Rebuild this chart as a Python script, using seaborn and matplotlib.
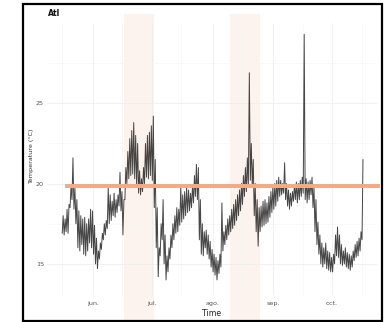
import matplotlib
matplotlib.use("Agg")
import matplotlib.pyplot as plt
import matplotlib.dates as mdates
from matplotlib.patches import Rectangle
import numpy as np
import pandas as pd
import seaborn as sns

# Daily minimum / maximum water temperature (°C), one value per day from 16 May
start_date = "2021-05-16"
daily_low = [
    16.9, 16.8, 17.0, 16.9, 18.5, 19.0, 18.4, 17.5, 16.0, 15.8,
    16.2, 15.6, 15.5, 15.8, 16.3, 16.0, 15.6, 15.0, 14.7, 15.3,
    15.9, 16.5, 16.8, 17.2, 17.5, 17.7, 18.0, 17.9, 18.2, 18.6,
    18.3, 16.8, 19.0, 20.0, 20.3, 20.5, 20.6, 20.3, 19.8, 19.4,
    19.3, 19.5, 20.0, 20.4, 20.3, 20.5, 20.2, 18.5, 16.0, 14.2,
    15.5, 16.5, 15.0, 14.0, 14.5, 15.3, 16.0, 16.5, 16.9, 17.0,
    17.4, 17.6, 17.8, 18.0, 18.2, 18.3, 18.5, 18.8, 19.2, 19.0,
    16.5, 15.6, 15.5, 16.0, 15.6, 15.3, 14.8, 14.5, 14.3, 14.0,
    14.4, 14.8, 15.8, 16.2, 16.5, 16.8, 17.0, 17.2, 17.4, 17.7,
    18.0, 18.3, 18.7, 19.2, 19.5, 19.8, 20.2, 19.8, 18.0, 17.0,
    16.1, 17.0, 17.3, 17.4, 17.5, 17.6, 17.9, 18.2, 18.4, 18.6,
    18.9, 19.2, 19.3, 19.4, 19.0, 18.6, 18.4, 18.6, 18.9, 19.0,
    18.8, 19.0, 19.2, 19.4, 19.0, 18.8, 19.0, 19.3, 18.5, 17.0,
    16.2, 15.6, 15.0, 14.8, 15.0, 14.7, 14.6, 14.5, 14.5, 15.0,
    15.5, 15.4, 15.0, 14.9, 15.0, 14.8, 14.7, 14.6, 14.8, 15.2,
    15.4, 15.5, 15.8, 16.5,
]
daily_high = [
    18.0, 17.8, 18.4, 18.7, 19.8, 21.6, 19.7, 19.0, 18.3, 18.0,
    17.8, 17.9, 17.5, 17.8, 18.4, 18.3, 17.4, 16.6, 15.8, 16.3,
    16.9, 17.5, 17.7, 19.8, 19.3, 18.9, 19.4, 19.0, 19.3, 20.7,
    19.5, 19.0, 21.0, 22.0, 22.8, 23.3, 23.8, 23.0, 22.5, 20.8,
    20.3, 21.0, 22.5, 23.0, 23.2, 23.6, 24.2, 21.5, 18.5, 16.0,
    17.5, 19.0, 16.8, 15.5, 16.0, 16.8, 17.5, 18.0, 18.5, 18.4,
    19.8, 19.3, 19.5, 19.8, 19.6, 19.4, 19.9, 20.5, 21.2, 21.0,
    19.0, 17.5, 17.0, 17.1, 16.8, 16.4, 15.9, 15.6, 15.4, 15.2,
    15.6, 18.8, 17.0, 17.4, 17.8, 18.0, 18.4, 18.7, 19.0, 19.3,
    19.6, 20.0, 20.5, 21.0, 21.6, 26.9, 22.5, 21.5, 20.0, 19.0,
    18.5, 18.6, 18.9, 19.0, 18.8, 19.2, 19.5, 19.8, 20.0, 20.2,
    20.4, 20.2, 20.0, 21.3, 20.0, 19.6, 19.4, 19.5, 19.9, 20.1,
    20.0, 20.2, 20.4, 29.3, 20.3, 20.1, 20.2, 20.4, 19.8, 19.0,
    17.6, 16.8, 16.3, 16.0, 16.3, 15.8, 15.7, 15.4, 15.6, 16.8,
    17.3, 16.8, 16.2, 15.8, 16.0, 15.7, 15.6, 15.5, 15.8, 16.2,
    16.4, 16.6, 17.0, 21.5,
]

# Heat-wave periods and the reference threshold
heatwave_starts = ["2021-06-17", "2021-08-10"]
heatwave_ends = ["2021-07-02", "2021-08-25"]
threshold = 19.87
threshold_span = ["2021-05-17 17:00", "2021-10-25 05:00"]

month_labels = ["jun.", "jul.", "ago.", "sep.", "oct."]
y_ticks = [15, 20, 25]

# Long table: morning minimum then afternoon maximum for each day
day0 = pd.Timestamp(start_date)
times, temps = [], []
for i, (lo, hi) in enumerate(zip(daily_low, daily_high)):
    times += [day0 + pd.Timedelta(days=i + 0.25), day0 + pd.Timedelta(days=i + 0.75)]
    temps += [lo, hi]
df = pd.DataFrame({"Time": times, "Temperature": temps})

sns.set_theme(style="white")
plt.rcParams["font.family"] = ["DejaVu Sans"]

fig = plt.figure(figsize=(3.88, 3.22), dpi=100)
ax = fig.add_axes([47 / 388, 1 - 295 / 322, 330 / 388, 272 / 322])
ax.set_axisbelow(True)

for s, e in zip(heatwave_starts, heatwave_ends):
    ax.axvspan(pd.Timestamp(s), pd.Timestamp(e), ymin=-0.092, ymax=1.033,
               color="#fdf3ee", lw=0, zorder=0.2, clip_on=False)

sns.lineplot(data=df, x="Time", y="Temperature", ax=ax, estimator=None,
             sort=False, color="black", alpha=0.72, lw=0.7, zorder=2)

ax.plot([pd.Timestamp(threshold_span[0]), pd.Timestamp(threshold_span[1])],
        [threshold, threshold], color="#f5ab82", lw=2.9, solid_capstyle="butt",
        zorder=3, clip_on=False)

x0 = day0 - pd.Timedelta(days=7.5)
x1 = day0 + pd.Timedelta(days=160.9)
ax.set_xlim(x0, x1)
ax.set_ylim(13.06, 30.0)

ax.xaxis.set_major_locator(mdates.MonthLocator(bymonth=[6, 7, 8, 9, 10]))
ax.xaxis.set_minor_locator(mdates.MonthLocator(bymonthday=16))
ax.xaxis.set_major_formatter(
    plt.FuncFormatter(lambda v, p: month_labels[mdates.num2date(v).month - 6]))
ax.set_yticks(y_ticks)
ax.set_yticks([17.5, 22.5, 27.5], minor=True)

ax.grid(True, which="major", color="#efefef", lw=0.6)
ax.grid(True, which="minor", color="#f5f5f5", lw=0.5)
for sp in ax.spines.values():
    sp.set_visible(False)
ax.tick_params(axis="both", which="both", length=0, colors="#555555",
               labelsize=4.6)
ax.tick_params(axis="x", pad=4.5)
ax.tick_params(axis="y", pad=2.2)

ax.set_xlabel("")
ax.set_ylabel("")
fig.text(212 / 388, 1 - 313 / 322, "Time", ha="center", va="center",
         fontsize=5.6, color="#222222")
fig.text(32 / 388, 1 - 156 / 322, "Temperature (°C)", rotation=90,
         ha="center", va="center", fontsize=4.6, color="#333333")
fig.text(48 / 388, 1 - 13 / 322, "Atl", ha="left", va="center",
         fontsize=5.6, color="#111111", fontweight="semibold")

fig.patches.append(Rectangle((22.5 / 388, 1 - 321 / 322), 359 / 388, 317 / 322,
                             transform=fig.transFigure, fill=False,
                             edgecolor="black", lw=1.6, zorder=10))

fig.savefig("out.png", dpi=100)
